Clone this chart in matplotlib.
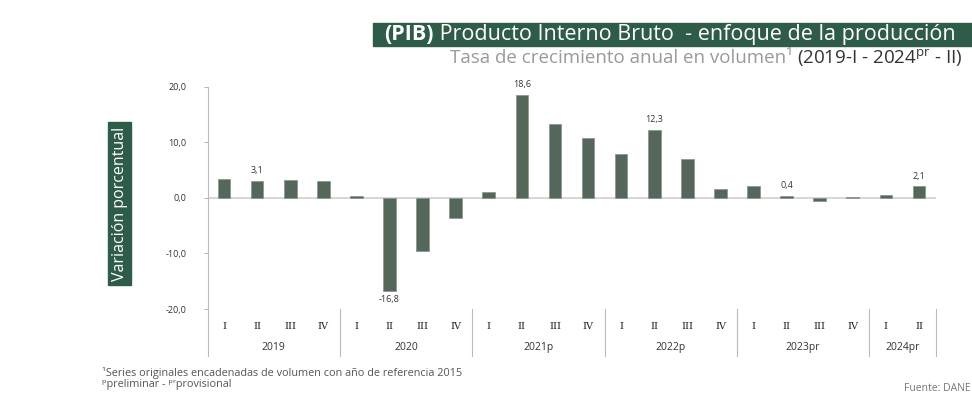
import matplotlib
matplotlib.use("Agg")
import matplotlib.pyplot as plt
from matplotlib.patches import Rectangle

plt.rcParams['font.family'] = ['Open Sans', 'DejaVu Sans']

years = ["2019", "2020", "2021p", "2022p", "2023pr", "2024pr"]
quarters_per_year = [4, 4, 4, 4, 4, 2]
quarter_names = ["I", "II", "III", "IV"]
values = [3.5, 3.1, 3.2, 3.1,
          0.4, -16.8, -9.6, -3.6,
          1.1, 18.6, 13.3, 10.8,
          7.9, 12.3, 7.1, 1.7,
          2.2, 0.4, -0.6, 0.2,
          0.6, 2.1]
labelled = {1: "3,1", 5: "-16,8", 9: "18,6", 13: "12,3", 17: "0,4", 21: "2,1"}
yticks = [20, 10, 0, -10, -20]

W, H = 972, 419
fig = plt.figure(figsize=(W / 100, H / 100), dpi=100)

def fx(px): return px / W
def fy(py): return 1 - py / H

ax_l, ax_r, ax_t, ax_b = 207.5, 935.5, 87, 309
ax = fig.add_axes([fx(ax_l), fy(ax_b), fx(ax_r) - fx(ax_l), fy(ax_t) - fy(ax_b)])

green = "#2e5c49"
bar_color = "#55665b"
x = list(range(len(values)))
ax.bar(x, values, width=0.38, color=bar_color, edgecolor="#8a9a90", linewidth=0.6, zorder=3)
ax.axhline(0, color="#cfcfcf", linewidth=1.2, zorder=2)
ax.set_xlim(-0.5, len(values) - 0.5)
ax.set_ylim(-20, 20)
ax.set_yticks(yticks)
ax.set_yticklabels([f"{v:.1f}".replace(".", ",") for v in yticks], fontsize=6.5, color="#333333")
ax.tick_params(axis="y", length=3, width=0.6, color="#aaaaaa", pad=12)
ax.set_xticks([])
for s in ["top", "right", "bottom"]:
    ax.spines[s].set_visible(False)
ax.spines["left"].set_color("#bbbbbb")
ax.spines["left"].set_linewidth(0.8)

for i, txt in labelled.items():
    v = values[i]
    if v >= 0:
        ax.annotate(txt, (i, v), xytext=(0, 4), textcoords="offset points",
                    ha="center", va="bottom", fontsize=6.5, color="#333333")
    else:
        ax.annotate(txt, (i, v), xytext=(0, -3), textcoords="offset points",
                    ha="center", va="top", fontsize=6.5, color="#333333")

# Category axis (quarters and years)
trans = ax.get_xaxis_transform()
y_q = -(326 - ax_b) / (ax_b - ax_t)
y_y = -(347 - ax_b) / (ax_b - ax_t)
y_sep_bot = -(356 - ax_b) / (ax_b - ax_t)
idx = 0
for yr, n in zip(years, quarters_per_year):
    start = idx
    for q in range(n):
        ax.text(idx, y_q, quarter_names[q], transform=trans, ha="center", va="center",
                fontsize=7, color="#222222", family=["DejaVu Serif"])
        idx += 1
    ax.text((start + idx - 1) / 2, y_y, yr, transform=trans, ha="center", va="center",
            fontsize=7.5, color="#333333")
    ax.plot([idx - 0.5, idx - 0.5], [0, y_sep_bot], transform=trans, color="#bbbbbb",
            linewidth=0.8, clip_on=False)
ax.plot([-0.5, -0.5], [0, y_sep_bot], transform=trans, color="#bbbbbb",
        linewidth=0.8, clip_on=False)

# Title box
fig.patches.append(Rectangle((fx(373), fy(46)), fx(972) - fx(373), fy(23) - fy(46),
                             transform=fig.transFigure, color=green, zorder=0))
t1 = fig.text(fx(384), fy(34.5), "(PIB)", color="white", fontsize=15.5,
              fontweight="bold", ha="left", va="center")
fig.canvas.draw()
r = fig.canvas.get_renderer()
bb = t1.get_window_extent(r)
fig.text(bb.x1 / W, fy(34.5), " Producto Interno Bruto  - enfoque de la producción",
         color="white", fontsize=15.5, ha="left", va="center")

# Subtitle
t2 = fig.text(fx(963), fy(58), r"(2019-I - 2024$^{\mathregular{pr}}$ - II)", color="#333333",
              fontsize=13.5, ha="right", va="center")
fig.canvas.draw()
bb2 = t2.get_window_extent(r)
fig.text(bb2.x0 / W, fy(58), "Tasa de crecimiento anual en volumen¹ ", color="#9a9a9a",
         fontsize=13.5, ha="right", va="center")

# Y label box
fig.patches.append(Rectangle((fx(108), fy(285)), fx(131) - fx(108), fy(122) - fy(285),
                             transform=fig.transFigure, color=green, zorder=0))
fig.text(fx(119.5), fy(203.5), "Variación porcentual", color="white", fontsize=11.5,
         rotation=90, ha="center", va="center")

# Footnotes
fig.text(fx(102), fy(373), "¹Series originales encadenadas de volumen con año de referencia 2015",
         fontsize=7.8, color="#555555", ha="left", va="center")
fig.text(fx(102), fy(384), "ᵖpreliminar - ᵖʳprovisional",
         fontsize=7.8, color="#555555", ha="left", va="center")
fig.text(fx(971), fy(388), "Fuente: DANE", fontsize=7.5, color="#777777",
         ha="right", va="center")

fig.savefig("out.png", dpi=100)
